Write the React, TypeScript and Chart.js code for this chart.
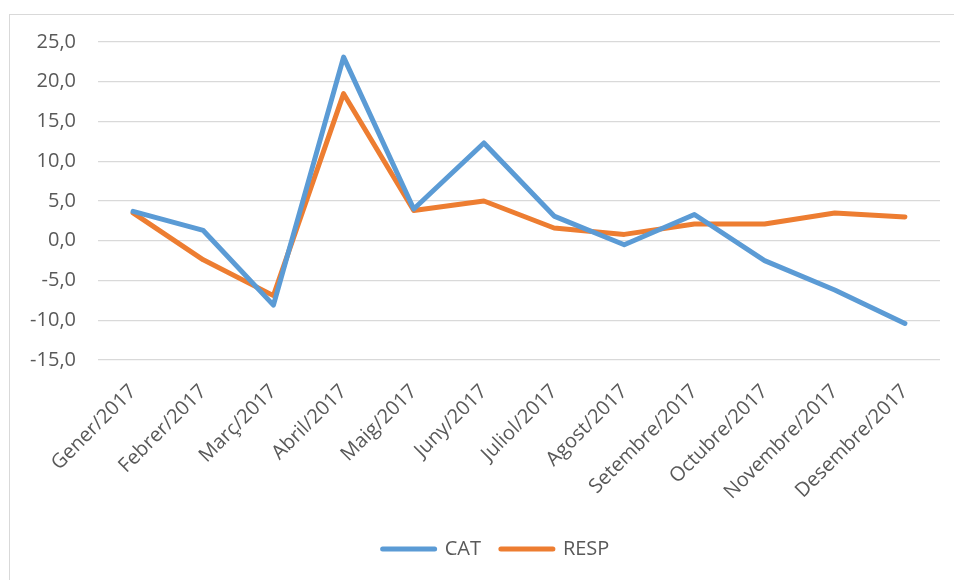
import React, { useEffect, useRef } from "react";
import { Chart, registerables } from "chart.js";

Chart.register(...registerables);

const categories = [
  "Gener/2017", "Febrer/2017", "Març/2017", "Abril/2017", "Maig/2017", "Juny/2017",
  "Juliol/2017", "Agost/2017", "Setembre/2017", "Octubre/2017", "Novembre/2017", "Desembre/2017",
];
const catValues = [3.7, 1.3, -8.1, 23.1, 4.0, 12.3, 3.1, -0.5, 3.3, -2.5, -6.2, -10.4];
const respValues = [3.5, -2.4, -6.9, 18.5, 3.8, 5.0, 1.6, 0.8, 2.1, 2.1, 3.5, 3.0];
const seriesNames = ["CAT", "RESP"];
const seriesColors = ["#5b9bd5", "#ed7d31"];
const yMin = -15;
const yMax = 25;
const yStep = 5;

const FONT = "'Open Sans', sans-serif";
const TEXT = "#595959";

const legendShift = {
  id: "legendShift",
  afterLayout(chart: any) {
    if (chart.legend) {
      chart.legend.left += 26;
      chart.legend.right += 26;
    }
  },
};

export default function App() {
  const ref = useRef<HTMLCanvasElement | null>(null);
  useEffect(() => {
    if (!ref.current) return;
    const chart = new Chart(ref.current, {
      type: "line",
      data: {
        labels: categories,
        datasets: [catValues, respValues].map((d, i) => ({
          label: seriesNames[i],
          data: d,
          borderColor: seriesColors[i],
          backgroundColor: seriesColors[i],
          borderWidth: 5,
          pointRadius: 0,
          pointHoverRadius: 0,
          borderJoinStyle: "round" as const,
          borderCapStyle: "round" as const,
          tension: 0,
          fill: false,
        })),
      },
      plugins: [legendShift],
      options: {
        responsive: false,
        animation: false,
        layout: { padding: { left: 0, right: 14, top: 42, bottom: 11 } },
        plugins: {
          tooltip: { enabled: false },
          legend: {
            position: "bottom",
            labels: {
              usePointStyle: true,
              pointStyle: "line",
              pointStyleWidth: 52,
              boxHeight: 5,
              padding: 20,
              color: TEXT,
              font: { family: FONT, size: 20 },
              generateLabels: (c: any) =>
                c.data.datasets.map((ds: any, i: number) => ({
                  text: ds.label,
                  fillStyle: ds.borderColor,
                  strokeStyle: ds.borderColor,
                  lineWidth: 5,
                  lineCap: "round",
                  pointStyle: "line",
                  hidden: false,
                  datasetIndex: i,
                  fontColor: TEXT,
                })),
            },
          },
        },
        scales: {
          x: {
            offset: true,
            grid: { display: false, drawTicks: false, offset: true },
            border: { display: false },
            afterFit: (s: any) => { s.height = 159; },
            ticks: {
              minRotation: 45,
              maxRotation: 45,
              autoSkip: false,
              padding: 20,
              color: TEXT,
              font: { family: FONT, size: 20 },
            },
          },
          y: {
            min: yMin,
            max: yMax,
            afterFit: (s: any) => { s.width = 98; },
            grid: { color: "#d9d9d9", lineWidth: 1.3, drawTicks: false },
            border: { display: false },
            ticks: {
              stepSize: yStep,
              padding: 22,
              color: TEXT,
              font: { family: FONT, size: 20 },
              callback: (v: any) => Number(v).toFixed(1).replace(".", ","),
            },
          },
        },
      },
    });
    return () => chart.destroy();
  }, []);
  return (
    <div style={{ position: "fixed", left: 0, top: 0, width: 954, height: 580, overflow: "hidden", background: "#fff" }}>
      <div style={{ position: "absolute", left: 9, top: 14, width: 1000, height: 700, border: "1px solid #d9d9d9" }} />
      <canvas ref={ref} width={954} height={580} style={{ position: "absolute", left: 0, top: 0 }} />
    </div>
  );
}
